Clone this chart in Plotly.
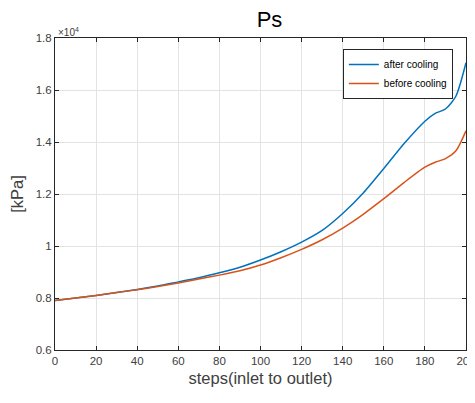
import plotly.graph_objects as go

steps = [0, 10, 20, 30, 40, 50, 60, 70, 80, 90, 100, 110, 120, 130, 140, 150,
         160, 170, 180, 185, 190, 195, 200]
after_cooling = [7900, 8000, 8100, 8210, 8330, 8460, 8620, 8780, 8970, 9180, 9460,
                 9780, 10150, 10600, 11250, 12040, 12980, 13950, 14800, 15100,
                 15270, 15750, 17050]
before_cooling = [7900, 8000, 8100, 8210, 8320, 8440, 8580, 8730, 8880, 9050, 9270,
                  9550, 9870, 10240, 10690, 11220, 11820, 12450, 13030, 13220,
                  13360, 13650, 14430]
y_tickvals = [6000, 8000, 10000, 12000, 14000, 16000, 18000]
y_ticktext = ["0.6", "0.8", "1", "1.2", "1.4", "1.6", "1.8"]
x_tickvals = [0, 20, 40, 60, 80, 100, 120, 140, 160, 180, 200]

FONT = "Liberation Sans, Arial, Helvetica, sans-serif"
AX = "#262626"
TXT = "#404040"

fig = go.Figure()
fig.add_trace(go.Scatter(x=steps, y=after_cooling, mode="lines", name="after cooling",
                         line=dict(color="#0072BD", width=1.5, shape="spline", smoothing=0.7)))
fig.add_trace(go.Scatter(x=steps, y=before_cooling, mode="lines", name="before cooling",
                         line=dict(color="#D95319", width=1.5, shape="spline", smoothing=0.7)))

axis_common = dict(showline=True, linecolor=AX, linewidth=1, mirror="ticks",
                   ticks="inside", ticklen=4, tickcolor=AX, showgrid=True,
                   gridcolor="#e3e3e3", gridwidth=1, zeroline=False,
                   automargin=False, ticklabeloverflow="allow",
                   tickfont=dict(family=FONT, size=11.5, color=TXT))

# page body has an 8px margin, so the figure is sized/offset to compensate
fig.update_layout(
    width=467, height=395,
    margin=dict(l=47, r=9, t=30, b=53),
    paper_bgcolor="white", plot_bgcolor="white",
    font=dict(family=FONT, color=AX),
    title=dict(text="Ps", x=0.56, xanchor="center", y=0.99, yanchor="top",
               font=dict(family=FONT, size=22, color="#000000")),
    showlegend=True,
    legend=dict(x=0.968, y=0.965, xanchor="right", yanchor="top",
                bgcolor="white", bordercolor=AX, borderwidth=1,
                font=dict(family=FONT, size=10, color="#000000"),
                itemwidth=30, tracegroupgap=0),
    xaxis=dict(range=[0, 200], tickvals=x_tickvals,
               title=dict(text="steps(inlet to outlet)", standoff=6,
                          font=dict(family=FONT, size=16.5, color=TXT)),
               **axis_common),
    yaxis=dict(range=[6000, 18000], tickvals=y_tickvals, ticktext=y_ticktext,
               title=dict(text="[kPa]", standoff=8,
                          font=dict(family=FONT, size=16.5, color=TXT)),
               **axis_common),
)
fig.add_annotation(text="×10<sup>4</sup>", xref="paper", yref="paper", x=0.0, y=1.0,
                   xanchor="left", yanchor="bottom", showarrow=False,
                   font=dict(family=FONT, size=10, color=TXT), xshift=1, yshift=-2)

fig.write_html("out.html")
